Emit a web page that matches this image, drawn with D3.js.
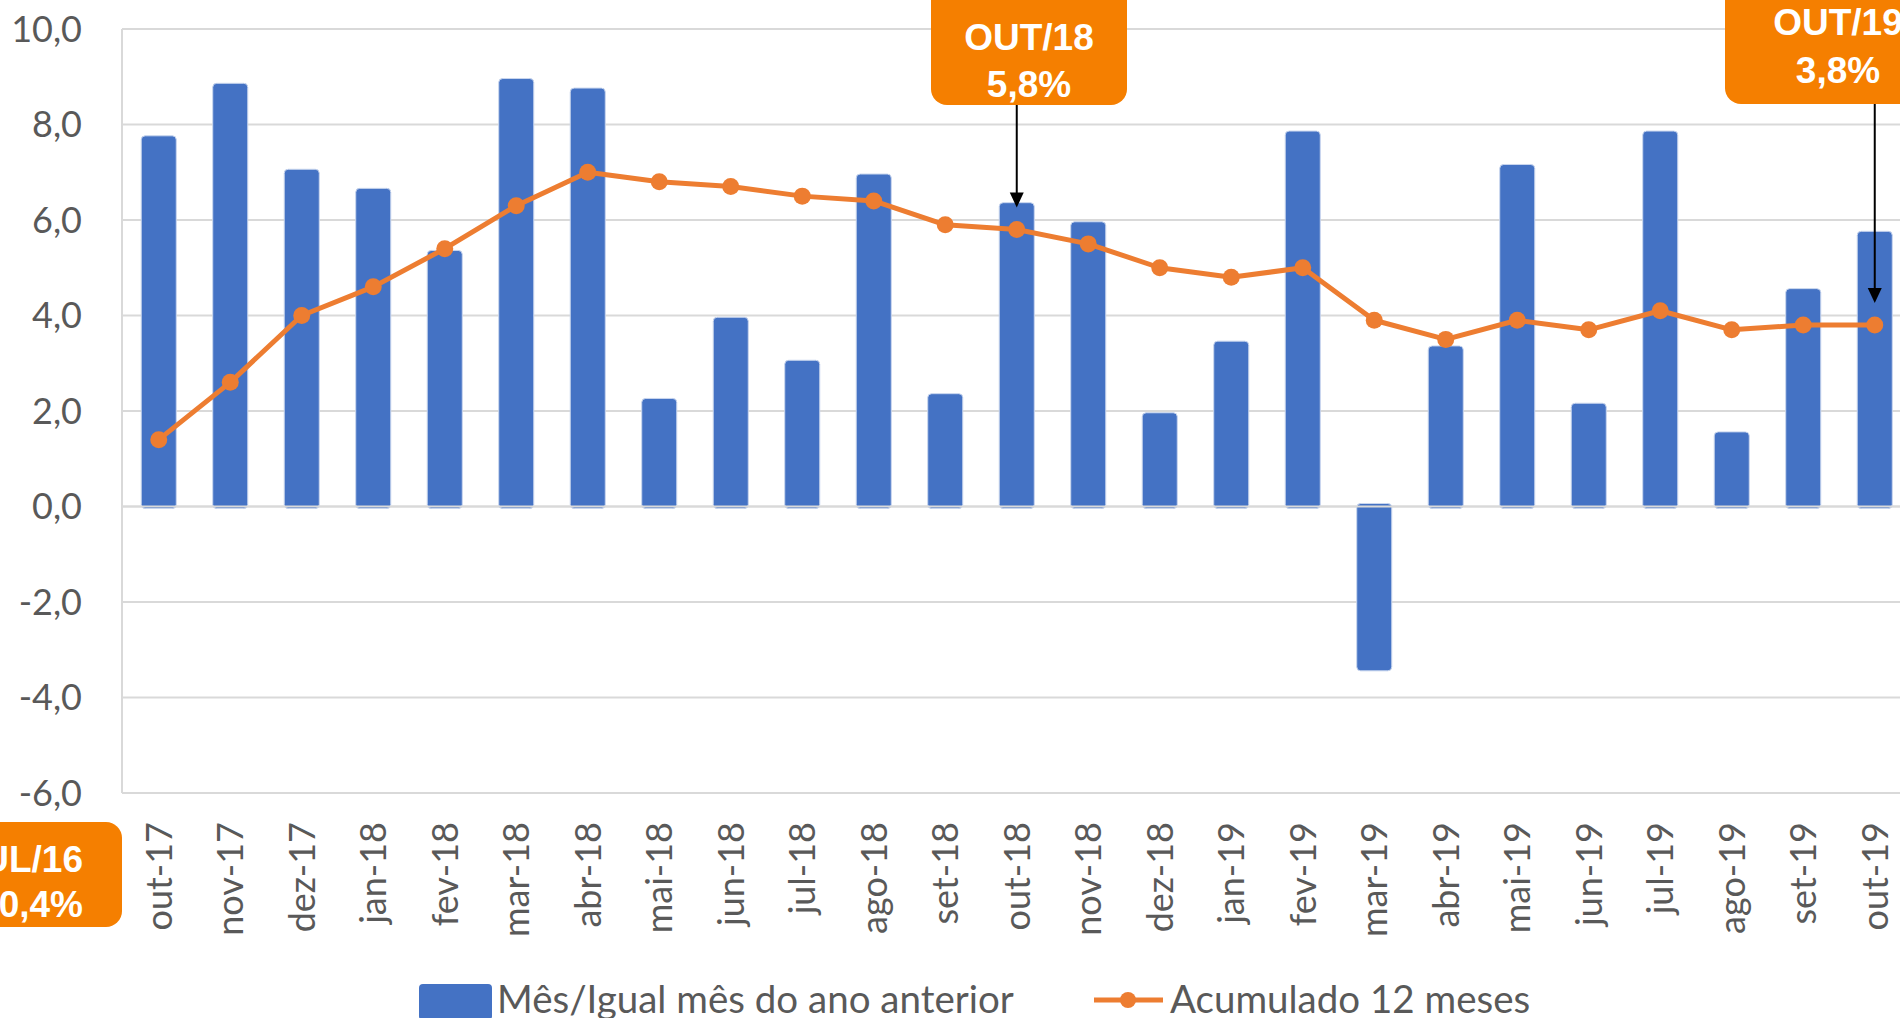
<!DOCTYPE html>
<html>
<head>
<meta charset="utf-8">
<script src="https://cdn.jsdelivr.net/npm/d3@7"></script>
<style>
  body { margin: 0; background: #fff; overflow: hidden; }
  svg { display: block; }
</style>
</head>
<body>
<figure id="chart" style="margin:0"></figure>
<script>
// data
const months = ["out-17", "nov-17", "dez-17", "jan-18", "fev-18", "mar-18", "abr-18", "mai-18",
  "jun-18", "jul-18", "ago-18", "set-18", "out-18", "nov-18", "dez-18", "jan-19", "fev-19",
  "mar-19", "abr-19", "mai-19", "jun-19", "jul-19", "ago-19", "set-19", "out-19"];
const monthly = [7.7, 8.8, 7.0, 6.6, 5.3, 8.9, 8.7, 2.2, 3.9, 3.0, 6.9, 2.3, 6.3, 5.9, 1.9, 3.4,
  7.8, -3.4, 3.3, 7.1, 2.1, 7.8, 1.5, 4.5, 5.7];
const accum12 = [1.4, 2.6, 4.0, 4.6, 5.4, 6.3, 7.0, 6.8, 6.7, 6.5, 6.4, 5.9, 5.8, 5.5, 5.0, 4.8,
  5.0, 3.9, 3.5, 3.9, 3.7, 4.1, 3.7, 3.8, 3.8];
const yTicks = [-6, -4, -2, 0, 2, 4, 6, 8, 10];
const seriesNames = ["Mês/Igual mês do ano anterior", "Acumulado 12 meses"];
const callouts = [
  { title: "OUT/18", value: "5,8%", month: "out-18" },
  { title: "OUT/19", value: "3,8%", month: "out-19" },
  { title: "JUL/16", value: "0,4%", month: null }
];

const width = 1900, height = 1018;
const blue = "#4472C4", orange = "#ED7D31", boxOrange = "#F57F00";
const grid = "#d9d9d9", txt = "#595959";
const fmt = d => d.toFixed(1).replace(".", ",");

const svg = d3.select("figure#chart")
  .append("svg")
  .attr("width", width)
  .attr("height", height)
  .style("font-family", "Lato, 'Liberation Sans', sans-serif");

const x = d3.scaleBand()
  .domain(months)
  .range([123, 1910.5])
  .paddingInner(0.51)
  .paddingOuter(0.255);
const cx = m => x(m) + x.bandwidth() / 2;

const y = d3.scaleLinear().domain([-6, 10]).range([793, 29]);

// gridlines
svg.append("g")
  .selectAll("line")
  .data(yTicks)
  .enter()
  .append("line")
  .attr("x1", 122).attr("x2", width)
  .attr("y1", d => y(d)).attr("y2", d => y(d))
  .attr("stroke", grid)
  .attr("stroke-width", 2);

svg.append("line")
  .attr("x1", 122).attr("x2", 122)
  .attr("y1", y(10)).attr("y2", y(-6))
  .attr("stroke", grid)
  .attr("stroke-width", 2);

// y labels
svg.append("g")
  .selectAll("text")
  .data(yTicks)
  .enter()
  .append("text")
  .attr("x", 82)
  .attr("y", d => y(d))
  .attr("dy", "0.36em")
  .attr("text-anchor", "end")
  .attr("fill", txt)
  .style("font-size", "36px")
  .text(fmt);

// bars
svg.append("g")
  .selectAll("rect")
  .data(months)
  .enter()
  .append("rect")
  .attr("x", m => x(m))
  .attr("width", x.bandwidth())
  .attr("y", (m, i) => Math.min(y(monthly[i]), y(0)) - 3)
  .attr("height", (m, i) => Math.abs(y(monthly[i]) - y(0)) + 5)
  .attr("rx", 4)
  .attr("fill", blue)
  .attr("stroke", "#c9d6ee")
  .attr("stroke-width", 1);

// horizontal axis line on top of bars
svg.append("line")
  .attr("x1", 122).attr("x2", width)
  .attr("y1", y(0)).attr("y2", y(0))
  .attr("stroke", grid)
  .attr("stroke-width", 2);

// accumulated line
const line = d3.line()
  .x((d, i) => cx(months[i]))
  .y(d => y(d));

svg.append("path")
  .datum(accum12)
  .attr("d", line)
  .attr("fill", "none")
  .attr("stroke", orange)
  .attr("stroke-width", 5)
  .attr("stroke-linejoin", "round");

svg.append("g")
  .selectAll("circle")
  .data(accum12)
  .enter()
  .append("circle")
  .attr("cx", (d, i) => cx(months[i]))
  .attr("cy", d => y(d))
  .attr("r", 8.5)
  .attr("fill", orange);

// x labels
svg.append("g")
  .selectAll("text")
  .data(months)
  .enter()
  .append("text")
  .attr("transform", m => "translate(" + cx(m) + ",822) rotate(-90)")
  .attr("text-anchor", "end")
  .attr("dy", "0.36em")
  .attr("fill", txt)
  .style("font-size", "36px")
  .text(m => m);

// callouts
const boxes = [
  { c: callouts[0], x: 931, y: -20, w: 196, h: 125, tx: 1029, t1: 50, t2: 97, anchor: "middle" },
  { c: callouts[1], x: 1725, y: -20, w: 226, h: 124, tx: 1838, t1: 35, t2: 83, anchor: "middle" },
  { c: callouts[2], x: -110, y: 822, w: 232, h: 105, tx: 83, t1: 872, t2: 917, anchor: "end" }
];

const cg = svg.append("g");
boxes.forEach(b => {
  cg.append("rect")
    .attr("x", b.x).attr("y", b.y)
    .attr("width", b.w).attr("height", b.h)
    .attr("rx", 16)
    .attr("fill", boxOrange);
  [b.c.title, b.c.value].forEach((t, k) => {
    cg.append("text")
      .attr("x", b.tx)
      .attr("y", k === 0 ? b.t1 : b.t2)
      .attr("text-anchor", b.anchor)
      .attr("fill", "#fff")
      .style("font-family", "'Liberation Sans', Arial, sans-serif")
      .style("font-weight", "bold")
      .style("font-size", "37px")
      .text(t);
  });
  if (b.c.month) {
    const i = months.indexOf(b.c.month);
    const ax = cx(b.c.month);
    const tip = y(accum12[i]) - 22;
    cg.append("line")
      .attr("x1", ax).attr("x2", ax)
      .attr("y1", b.y + b.h).attr("y2", tip - 12)
      .attr("stroke", "#000")
      .attr("stroke-width", 2);
    cg.append("path")
      .attr("d", "M" + (ax - 7) + "," + (tip - 15) + "L" + (ax + 7) + "," + (tip - 15) + "L" + ax + "," + tip + "Z")
      .attr("fill", "#000");
  }
});

// legend
const lg = svg.append("g").style("font-size", "38.5px").attr("fill", txt);
lg.append("rect")
  .attr("x", 419).attr("y", 984)
  .attr("width", 73).attr("height", 36)
  .attr("rx", 4)
  .attr("fill", blue);
lg.append("text")
  .attr("x", 497).attr("y", 1013)
  .text(seriesNames[0]);
lg.append("line")
  .attr("x1", 1094).attr("x2", 1163)
  .attr("y1", 1000).attr("y2", 1000)
  .attr("stroke", orange)
  .attr("stroke-width", 5);
lg.append("circle")
  .attr("cx", 1128).attr("cy", 1000)
  .attr("r", 8)
  .attr("fill", orange);
lg.append("text")
  .attr("x", 1170).attr("y", 1013)
  .text(seriesNames[1]);
</script>
</body>
</html>
